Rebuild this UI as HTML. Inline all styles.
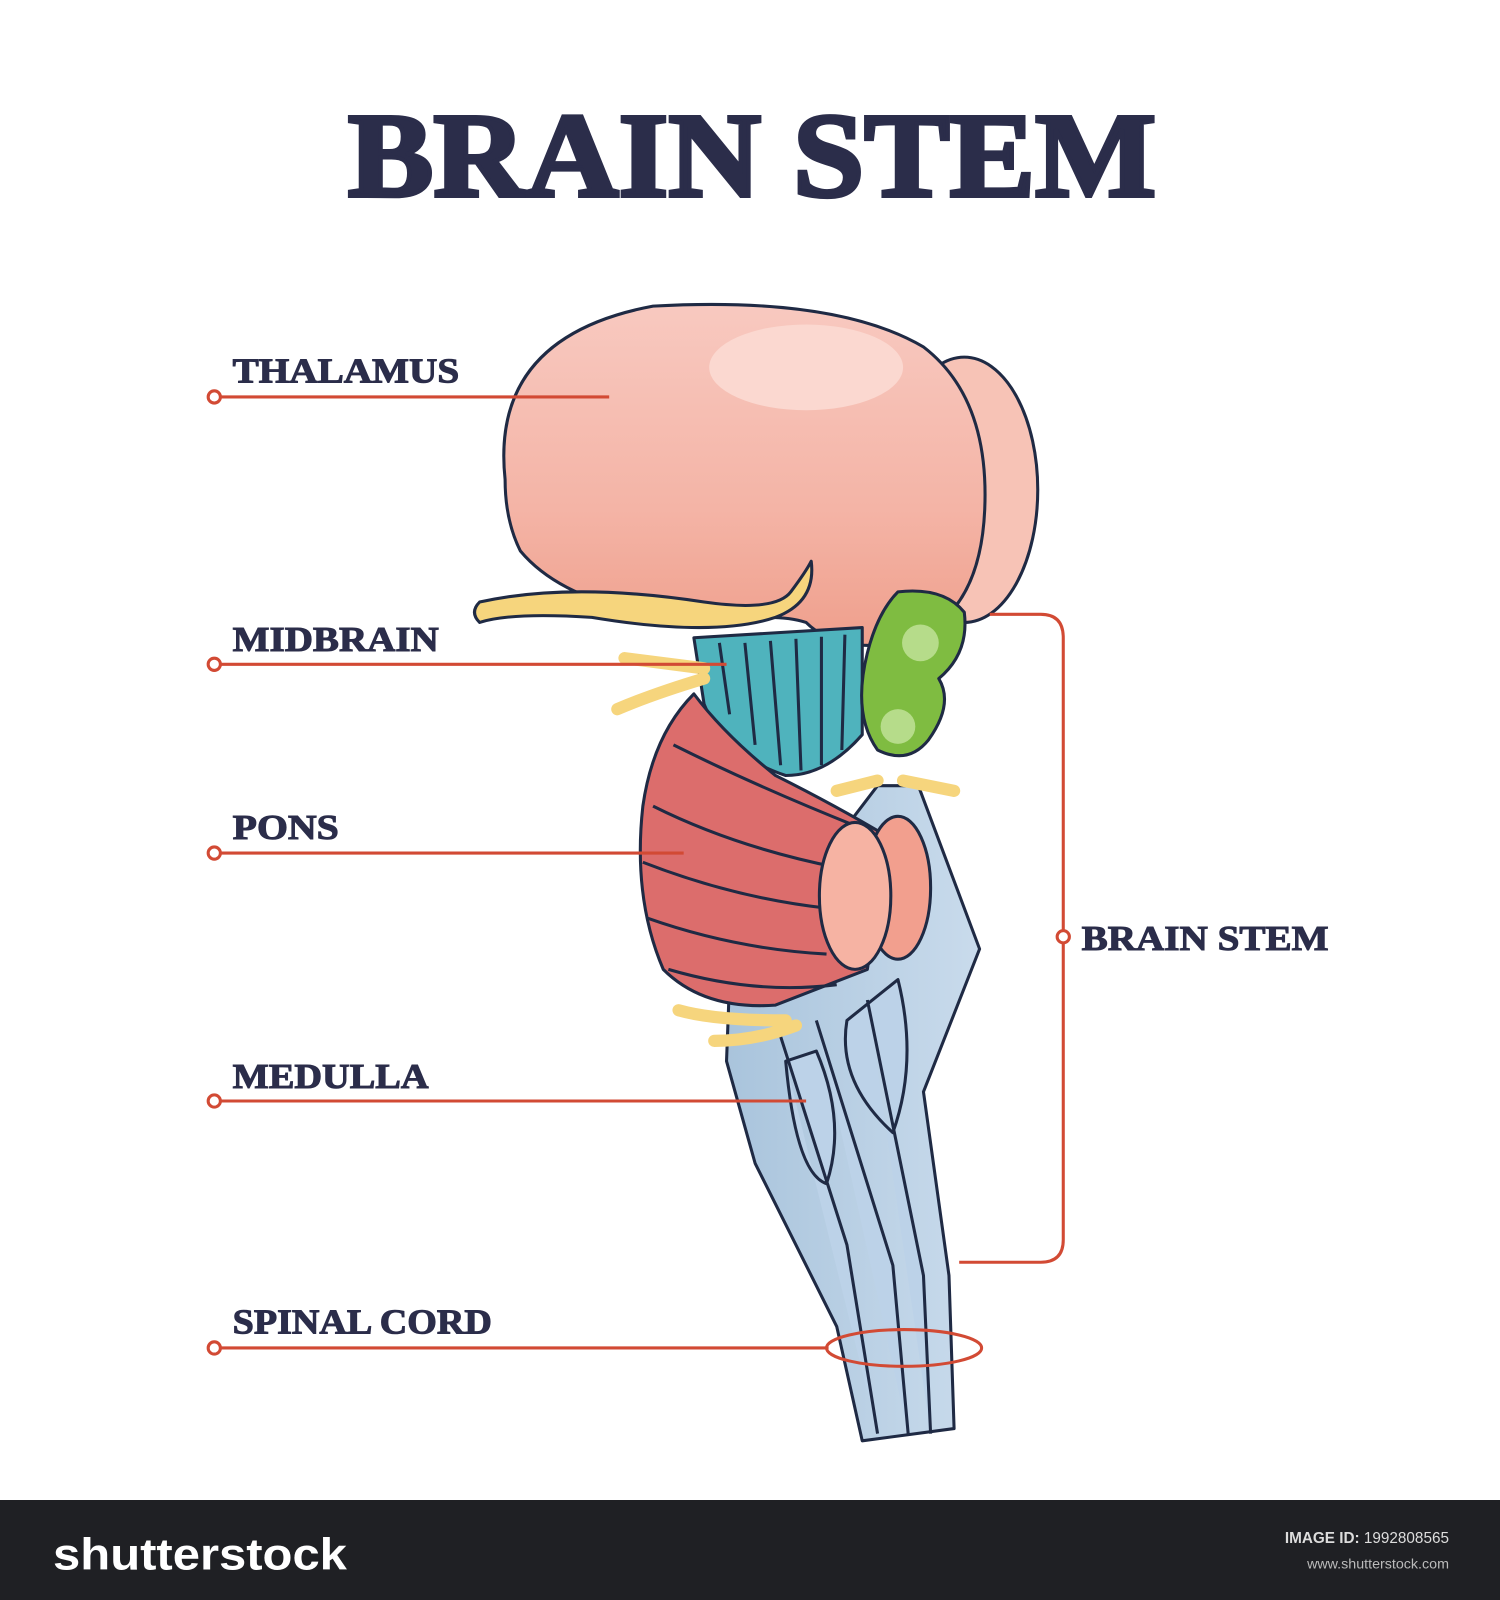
<!DOCTYPE html>
<html><head><meta charset="utf-8"><style>
html,body{margin:0;padding:0;background:#fff;}
svg{display:block;}
</style></head><body>
<svg width="1500" height="1600" viewBox="0 0 1470 1568" xmlns="http://www.w3.org/2000/svg">
<defs>
<linearGradient id="pk" x1="0" y1="0" x2="0" y2="1"><stop offset="0" stop-color="#f8c9c0"/><stop offset="0.6" stop-color="#f4b4a6"/><stop offset="1" stop-color="#ef9f8c"/></linearGradient>
<linearGradient id="bl" x1="0" y1="0" x2="1" y2="0"><stop offset="0" stop-color="#a9c4dc"/><stop offset="1" stop-color="#c9dbec"/></linearGradient>
</defs>
<rect width="1470" height="1568" fill="#fff"/>
<text x="737" y="192" text-anchor="middle" font-family="Liberation Serif, serif" font-weight="bold" font-size="118" fill="#2b2d4a" stroke="#2b2d4a" stroke-width="4" textLength="792" lengthAdjust="spacingAndGlyphs">BRAIN STEM</text>

<g stroke="#1f2a44" stroke-width="3" stroke-linejoin="round">
<path d="M715 960 L860 770 L900 770 L960 930 L905 1070 L930 1250 L935 1400 L845 1412 L820 1300 L740 1140 L712 1040 Z" fill="url(#bl)"/>
<path d="M760 1000 L830 1220 L860 1405 M800 1000 L875 1240 L890 1405 M850 980 L905 1250 L912 1405 M770 1040 Q780 1150 810 1160 Q830 1100 800 1030 Z M830 1000 Q820 1060 875 1110 Q900 1040 880 960 Z" fill="#bcd2e8"/>
<ellipse cx="945" cy="480" rx="72" ry="130" fill="#f7c3b6"/>
<path d="M495 470 Q480 330 640 300 Q820 290 905 340 Q970 390 965 500 Q960 610 880 630 Q820 640 790 610 Q760 600 700 610 Q560 600 510 540 Q495 510 495 470 Z" fill="url(#pk)"/>
<ellipse cx="790" cy="360" rx="95" ry="42" fill="#fbd8d0" stroke="none"/>
<path d="M470 590 Q560 570 690 590 Q760 600 775 580 Q790 560 795 550 Q800 590 760 605 Q700 625 580 605 Q500 600 470 610 Q460 600 470 590 Z" fill="#f6d57d"/>
<path d="M680 625 L845 615 L845 720 Q810 760 770 760 Q710 740 690 690 Z" fill="#4fb3bd"/>
<path d="M705 630 L715 700 M730 630 L740 730 M755 628 L765 750 M780 626 L785 755 M805 624 L805 750 M828 622 L825 735" fill="none"/>
<path d="M612 645 L690 655 M605 695 Q640 680 690 665" fill="none" stroke="#f6d57d" stroke-width="12" stroke-linecap="round"/>
<path d="M880 580 Q860 600 850 640 Q835 700 860 735 Q890 750 910 725 Q935 690 920 665 Q950 640 945 600 Q925 575 880 580 Z" fill="#7fbc41"/>
<circle cx="902" cy="630" r="18" fill="#b6dc8a" stroke="none"/><circle cx="880" cy="712" r="17" fill="#b6dc8a" stroke="none"/>
<path d="M820 775 L860 765 M885 765 L935 775" stroke="#f6d57d" stroke-width="12" stroke-linecap="round" fill="none"/>
<path d="M680 680 Q640 720 630 790 Q620 880 650 950 Q690 990 760 985 L850 950 L870 820 Q820 790 760 760 Q710 720 680 680 Z" fill="#dc6d6c"/>
<path d="M660 730 Q740 770 840 810 M640 790 Q720 830 820 850 M630 845 Q720 880 810 890 M635 900 Q720 930 810 935 M655 950 Q740 975 820 965" fill="none"/>
<ellipse cx="880" cy="870" rx="32" ry="70" fill="#f29f8e"/>
<ellipse cx="838" cy="878" rx="35" ry="72" fill="#f6b3a3"/>
<path d="M665 990 Q700 1000 770 1000 M700 1020 Q740 1020 780 1005" stroke="#f6d57d" stroke-width="12" stroke-linecap="round" fill="none"/>
</g>

<g stroke="#d24a34" stroke-width="3" fill="none">
<line x1="216" y1="389" x2="597" y2="389"/>
<line x1="216" y1="651" x2="712" y2="651"/>
<line x1="216" y1="836" x2="670" y2="836"/>
<line x1="216" y1="1079" x2="790" y2="1079"/>
<line x1="216" y1="1321" x2="812" y2="1321"/>
<ellipse cx="886" cy="1321" rx="76" ry="18"/>
<path d="M970 602 H1020 Q1042 602 1042 625 V1215 Q1042 1237 1020 1237 H940"/>
<circle cx="210" cy="389" r="6" fill="#fff"/><circle cx="210" cy="651" r="6" fill="#fff"/>
<circle cx="210" cy="836" r="6" fill="#fff"/><circle cx="210" cy="1079" r="6" fill="#fff"/>
<circle cx="210" cy="1321" r="6" fill="#fff"/><circle cx="1042" cy="918" r="6" fill="#fff"/>
</g>
<g font-family="Liberation Serif, serif" font-weight="bold" font-size="34" fill="#2b2d4a" stroke="#2b2d4a" stroke-width="1" lengthAdjust="spacingAndGlyphs">
<text x="228" y="375" textLength="222" lengthAdjust="spacingAndGlyphs">THALAMUS</text>
<text x="228" y="638" textLength="202" lengthAdjust="spacingAndGlyphs">MIDBRAIN</text>
<text x="228" y="822" textLength="104" lengthAdjust="spacingAndGlyphs">PONS</text>
<text x="228" y="1066" textLength="192" lengthAdjust="spacingAndGlyphs">MEDULLA</text>
<text x="228" y="1307" textLength="254" lengthAdjust="spacingAndGlyphs">SPINAL CORD</text>
<text x="1060" y="931" textLength="242" lengthAdjust="spacingAndGlyphs">BRAIN STEM</text>
</g>

<rect x="0" y="1470" width="1470" height="98" fill="#1f2024"/>
<text x="52" y="1538" font-family="Liberation Sans, sans-serif" font-weight="bold" font-size="44" fill="#fff" textLength="288" lengthAdjust="spacingAndGlyphs">shutterstock</text>
<text x="1420" y="1512" text-anchor="end" font-family="Liberation Sans, sans-serif" font-size="15" fill="#ddd"><tspan font-weight="bold">IMAGE ID:</tspan> 1992808565</text>
<text x="1420" y="1537" text-anchor="end" font-family="Liberation Sans, sans-serif" font-size="14" fill="#bbb">www.shutterstock.com</text>
</svg>
</body></html>
